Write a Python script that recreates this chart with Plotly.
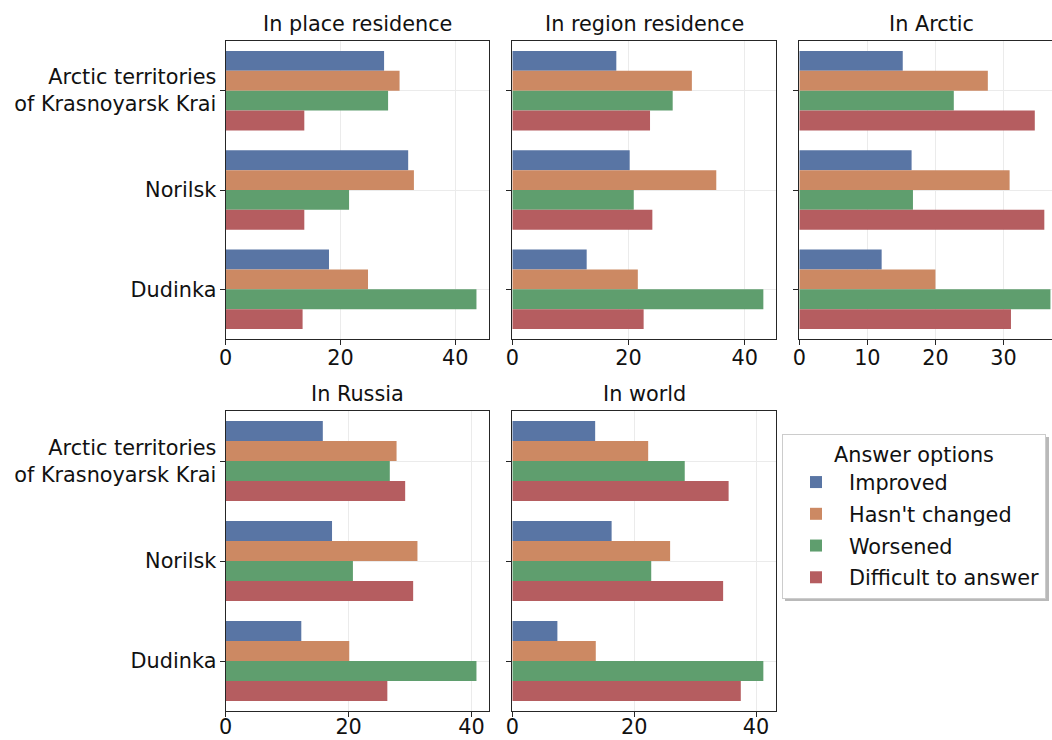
import plotly.graph_objects as go

# ---------------- data ----------------
categories = ["Arctic territories<br>of Krasnoyarsk Krai", "Norilsk", "Dudinka"]
answers = ["Improved", "Hasn't changed", "Worsened", "Difficult to answer"]
panel_titles = ["In place residence", "In region residence", "In Arctic", "In Russia", "In world"]

# values per panel: rows = answers (Improved, Hasn't changed, Worsened, Difficult), cols = categories
place_values = [[27.6, 31.8, 18.0], [30.3, 32.8, 24.8], [28.3, 21.5, 43.7], [13.7, 13.7, 13.4]]
region_values = [[17.9, 20.2, 12.8], [30.9, 35.1, 21.6], [27.6, 20.9, 43.2], [23.7, 24.1, 22.6]]
arctic_values = [[15.2, 16.5, 12.1], [27.7, 30.9, 20.0], [22.7, 16.7, 36.9], [34.6, 36.0, 31.1]]
russia_values = [[15.8, 17.3, 12.3], [27.8, 31.2, 20.1], [26.7, 20.7, 40.8], [29.2, 30.5, 26.3]]
world_values = [[13.6, 16.3, 7.4], [22.3, 25.9, 13.7], [28.3, 22.8, 41.2], [35.5, 34.6, 37.5]]

ticks_wide = [0, 20, 40]
ticks_arctic = [0, 10, 20, 30]

colors = ["#5975a4", "#cc8963", "#5f9e6e", "#b55d60"]

# ---------------- layout geometry ----------------
W, H = 1052, 740
FONT = "DejaVu Sans"
FS = 20.8
TXT = "#111111"
SPINE = "#262626"
GRID = "#ebebeb"

col_px = [(225.7, 489.0), (512.3, 775.9), (799.3, 1063.0)]
row_px = [(41.0, 339.0), (411.0, 711.0)]

panels = [
    (place_values, 0, 0, ticks_wide),
    (region_values, 0, 1, ticks_wide),
    (arctic_values, 0, 2, ticks_arctic),
    (russia_values, 1, 0, ticks_wide),
    (world_values, 1, 1, ticks_wide),
]

fig = go.Figure()
annotations = []
layout_axes = {}

for i, (vals, r, c, ticks) in enumerate(panels):
    k = i + 1
    xs = "" if k == 1 else str(k)
    x0, x1 = col_px[c]
    y0, y1 = row_px[r]
    full_w = x1 - x0
    vis_x1 = min(x1, W)
    xmax = 1.05 * max(max(v) for v in vals)
    xrange_end = xmax * (vis_x1 - x0) / full_w
    clipped = x1 > W

    for j, ans in enumerate(answers):
        fig.add_trace(go.Bar(
            x=vals[j], y=categories, orientation="h",
            name=ans, legendgroup=ans, showlegend=(k == 1),
            marker=dict(color=colors[j], line=dict(width=0)),
            xaxis="x" + xs, yaxis="y" + xs,
        ))

    layout_axes["xaxis" + xs] = dict(
        domain=[x0 / W, vis_x1 / W], anchor="y" + xs,
        range=[0, xrange_end], tickvals=ticks, ticktext=[str(t) for t in ticks],
        showline=True, linecolor=SPINE, linewidth=1.3, mirror=True,
        ticks="outside", ticklen=5, tickwidth=1.2, tickcolor=SPINE,
        ticklabelstandoff=(-5 if r == 0 else -8),
        showgrid=True, gridcolor=GRID, gridwidth=1, zeroline=False,
        tickfont=dict(family=FONT, size=FS, color=TXT), automargin=False,
    )
    layout_axes["yaxis" + xs] = dict(
        domain=[1 - y1 / H, 1 - y0 / H], anchor="x" + xs,
        type="category", categoryorder="array", categoryarray=categories,
        range=[2.5, -0.5],
        showline=True, linecolor=SPINE, linewidth=1.3, mirror=(not clipped),
        ticks="outside", ticklen=5, tickwidth=1.2, tickcolor=SPINE,
        ticklabelstandoff=-1,
        showgrid=True, gridcolor=GRID, gridwidth=1, zeroline=False,
        showticklabels=(c == 0),
        tickfont=dict(family=FONT, size=FS, color=TXT), automargin=False,
    )
    annotations.append(dict(
        text=panel_titles[i], xref="paper", yref="paper",
        x=(x0 + x1) / 2 / W,
        y=1 - y0 / H, xanchor="center", yanchor="bottom", yshift=3,
        showarrow=False, font=dict(family=FONT, size=FS, color=TXT),
    ))

# legend shadow (offset grey box behind the legend)
shapes = [dict(
    type="rect", xref="paper", yref="paper", layer="above",
    x0=785 / W, x1=1049 / W, y0=1 - 601 / H, y1=1 - 437 / H,
    fillcolor="#8a8a8a", line=dict(width=0), opacity=0.6,
)]

fig.update_layout(
    width=W, height=H,
    margin=dict(l=0, r=0, t=0, b=0),
    paper_bgcolor="white", plot_bgcolor="white",
    barmode="group", bargap=0.2, bargroupgap=0.0,
    font=dict(family=FONT, size=FS, color=TXT),
    annotations=annotations,
    shapes=shapes,
    legend=dict(
        title=dict(text="Answer options", side="top center",
                   font=dict(family=FONT, size=FS, color=TXT)),
        x=782 / W, y=1 - 434 / H, xanchor="left", yanchor="top",
        bgcolor="white", bordercolor="#cccccc", borderwidth=1,
        font=dict(family=FONT, size=FS, color=TXT),
        traceorder="grouped", tracegroupgap=1.7, itemwidth=56,
    ),
    **layout_axes,
)

fig.write_html("out.html")
